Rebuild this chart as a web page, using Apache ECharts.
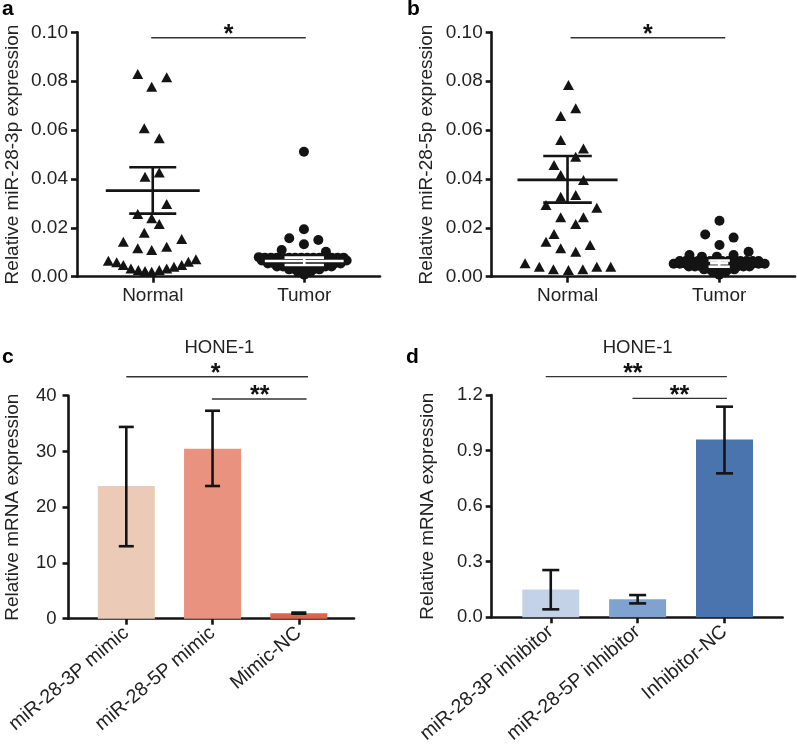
<!DOCTYPE html>
<html><head><meta charset="utf-8">
<script src="https://cdn.jsdelivr.net/npm/echarts@6/dist/echarts.min.js"></script>
<style>html,body{margin:0;padding:0;background:#fff}#c{width:797px;height:745px}</style>
</head><body><div id="c"></div>
<script>
// ---------------- DATA ----------------
const scatterCategories = ['Normal', 'Tumor'];
const scatterCatPos = [0.5, 1.5];
const yTitleA = 'Relative miR-28-3p expression';
const yTitleB = 'Relative miR-28-5p expression';

// panel a: [x jitter position, value]
const aNormal = [
  [0.401,0.0829],[0.493,0.0777],[0.592,0.0816],[0.444,0.0607],[0.543,0.0566],
  [0.449,0.0409],[0.543,0.0426],[0.592,0.0297],[0.401,0.0257],[0.493,0.0239],
  [0.543,0.0216],[0.444,0.0180],[0.306,0.0143],[0.691,0.0154],[0.401,0.0116],
  [0.493,0.0109],[0.592,0.0123],
  [0.207,0.0065],[0.262,0.0059],[0.306,0.0048],[0.356,0.0034],[0.405,0.0027],
  [0.449,0.0023],[0.493,0.0020],[0.543,0.0027],[0.592,0.0034],[0.640,0.0041],
  [0.691,0.0048],[0.735,0.0061],[0.785,0.0071]
];
const aTumor = [
  [1.498,0.0511],[1.498,0.0194],[1.401,0.0157],[1.593,0.0150],[1.498,0.0133],
  [1.351,0.0109],[1.643,0.0102],
  [1.20,0.0080],[1.24,0.0078],[1.28,0.0078],[1.32,0.0078],[1.36,0.0078],[1.40,0.0078],[1.44,0.0078],
  [1.48,0.0078],[1.52,0.0078],[1.56,0.0078],[1.60,0.0078],[1.64,0.0078],[1.68,0.0078],[1.72,0.0078],[1.76,0.0078],
  [1.22,0.0066],[1.26,0.0066],[1.30,0.0066],[1.34,0.0066],[1.38,0.0066],[1.42,0.0066],[1.46,0.0066],[1.50,0.0066],
  [1.54,0.0066],[1.58,0.0066],[1.62,0.0066],[1.66,0.0066],[1.70,0.0066],[1.74,0.0066],[1.78,0.0066],
  [1.26,0.0054],[1.30,0.0054],[1.34,0.0054],[1.38,0.0054],[1.42,0.0054],[1.46,0.0054],[1.50,0.0054],
  [1.54,0.0054],[1.58,0.0054],[1.62,0.0054],[1.66,0.0054],[1.70,0.0054],[1.74,0.0054],
  [1.32,0.0042],[1.36,0.0042],[1.40,0.0042],[1.44,0.0042],[1.48,0.0042],[1.52,0.0042],[1.56,0.0042],
  [1.60,0.0042],[1.64,0.0042],[1.68,0.0042],
  [1.40,0.0030],[1.44,0.0030],[1.48,0.0030],[1.52,0.0030],[1.56,0.0030],[1.60,0.0030],
  [1.46,0.0018],[1.50,0.0018],[1.54,0.0018],[1.50,0.0008]
];
// [category position, mean, mean-SEM, mean+SEM]
const aStatsNormal = [[0.5, 0.0352, 0.0258, 0.0448]];
const aStatsTumor  = [[1.5, 0.0064, 0.0048, 0.0078]];

// panel b
const bNormal = [
  [0.506,0.0784],[0.554,0.0689],[0.455,0.0658],[0.455,0.0559],[0.605,0.0525],
  [0.554,0.0491],[0.411,0.0457],[0.455,0.0416],[0.605,0.0396],[0.455,0.0327],
  [0.554,0.0334],[0.358,0.0293],[0.693,0.0282],[0.455,0.0243],[0.605,0.0243],
  [0.554,0.0216],[0.411,0.0175],[0.358,0.0143],[0.455,0.0116],[0.554,0.0102],
  [0.649,0.0130],
  [0.220,0.0055],[0.314,0.0041],[0.407,0.0030],[0.506,0.0027],[0.601,0.0030],
  [0.693,0.0041],[0.785,0.0041]
];
const bTumor = [
  [1.502,0.0229],[1.408,0.0173],[1.595,0.0160],[1.502,0.0130],[1.304,0.0089],
  [1.694,0.0102],[1.595,0.0089],[1.386,0.0082],[1.485,0.0082],
  [1.24,0.0064],[1.28,0.0064],[1.32,0.0064],[1.36,0.0064],[1.40,0.0064],[1.44,0.0064],[1.48,0.0064],
  [1.52,0.0064],[1.56,0.0064],[1.60,0.0064],[1.64,0.0064],[1.68,0.0064],[1.72,0.0064],[1.76,0.0064],
  [1.20,0.0053],[1.24,0.0053],[1.28,0.0053],[1.32,0.0053],[1.36,0.0053],[1.40,0.0053],[1.44,0.0053],[1.48,0.0053],
  [1.52,0.0053],[1.56,0.0053],[1.60,0.0053],[1.64,0.0053],[1.68,0.0053],[1.72,0.0053],[1.76,0.0053],[1.80,0.0053],
  [1.30,0.0042],[1.34,0.0042],[1.38,0.0042],[1.42,0.0042],[1.46,0.0042],[1.50,0.0042],
  [1.54,0.0042],[1.58,0.0042],[1.62,0.0042],[1.66,0.0042],[1.70,0.0042],
  [1.40,0.0030],[1.44,0.0030],[1.48,0.0030],[1.52,0.0030],[1.56,0.0030],[1.60,0.0030],
  [1.46,0.0018],[1.50,0.0018],[1.54,0.0018],[1.50,0.0008]
];
const bStatsNormal = [[0.5, 0.0396, 0.0303, 0.0494]];
const bStatsTumor  = [[1.5, 0.0055, 0.0041, 0.0066]];

// panel c
const cCategories = ['miR-28-3P mimic', 'miR-28-5P mimic', 'Mimic-NC'];
const cValues = [23.8, 30.5, 1.0];
const cErrLow = [13.0, 23.8, 0.9];
const cErrHigh = [34.4, 37.3, 1.1];

// panel d
const dCategories = ['miR-28-3P inhibitor', 'miR-28-5P inhibitor', 'Inhibitor-NC'];
const dValues = [0.15, 0.097, 0.96];
const dErrLow = [0.043, 0.075, 0.777];
const dErrHigh = [0.255, 0.12, 1.137];

const barTitle = 'HONE-1';
const barYTitle = 'Relative mRNA expression';

// significance brackets: [grid, x1, x2, y, label, labelX] (data units)
const sigMarks = [
  [0, 0.49, 1.51, 0.0978, '*', 1.0],
  [1, 0.52, 1.54, 0.0978, '*', 1.03],
  [2, 0.0, 2.107, 43.4, '*', 1.036],
  [2, 0.993, 2.09, 39.4, '**', 1.547],
  [3, -0.058, 2.028, 1.299, '**', 0.945],
  [3, 0.94, 2.028, 1.182, '**', 1.482]
];

// ---------------- STYLE ----------------
const FONT = "'Liberation Sans', Arial, Helvetica, sans-serif";
const INK = '#141414';
const TXT = '#222';
const cColors = ['#EBCBB7', '#E8927F', '#DF634C'];
const dColors = ['#C3D2E6', '#7FA2CE', '#4A74AE'];

const chart = echarts.init(document.getElementById('c'), null, {renderer: 'canvas'});

function yAxisCfg(grid, min, max, interval, digits, fs, name, gap, margin) {
  return {
    type: 'value', gridIndex: grid, min, max, interval,
    axisLine: {show: true, onZero: false, lineStyle: {color: INK, width: 2.6}},
    axisTick: {show: true, inside: false, length: 6, lineStyle: {color: INK, width: 2.6}},
    axisLabel: {color: TXT, fontSize: fs, fontFamily: FONT, margin, formatter: v => v.toFixed(digits)},
    splitLine: {show: false},
    name, nameLocation: 'middle', nameGap: gap,
    nameTextStyle: {fontSize: 19, color: TXT, fontFamily: FONT}
  };
}
function xAxisCfg(grid, min, max, positions, cats, fs, rotate, margin) {
  return {
    type: 'value', gridIndex: grid, min, max,
    axisLine: {show: true, onZero: false, lineStyle: {color: INK, width: 2.6}},
    axisTick: {show: true, length: 6, customValues: positions, lineStyle: {color: INK, width: 2.6}},
    axisLabel: {
      customValues: positions, color: TXT, fontSize: fs, fontFamily: FONT, rotate, margin,
      formatter: v => { const i = positions.findIndex(p => Math.abs(p - v) < 1e-6); return i >= 0 ? cats[i] : ''; }
    },
    splitLine: {show: false}
  };
}

function statsRender(color, meanHalf, capHalf) {
  return function (params, api) {
    const x = api.value(0), m = api.value(1), lo = api.value(2), hi = api.value(3);
    const st = {stroke: color, lineWidth: 2.6};
    const ln = (a, b) => ({type: 'line', shape: {x1: a[0], y1: a[1], x2: b[0], y2: b[1]}, style: st});
    return {type: 'group', children: [
      ln(api.coord([x - meanHalf, m]), api.coord([x + meanHalf, m])),
      ln(api.coord([x, lo]), api.coord([x, hi])),
      ln(api.coord([x - capHalf, lo]), api.coord([x + capHalf, lo])),
      ln(api.coord([x - capHalf, hi]), api.coord([x + capHalf, hi]))
    ]};
  };
}
function errRender(capPx) {
  return function (params, api) {
    const x = api.value(0), lo = api.value(1), hi = api.value(2);
    const a = api.coord([x, lo]), b = api.coord([x, hi]);
    const st = {stroke: INK, lineWidth: 2.6};
    return {type: 'group', children: [
      {type: 'line', shape: {x1: a[0], y1: a[1], x2: b[0], y2: b[1]}, style: st},
      {type: 'line', shape: {x1: a[0] - capPx, y1: a[1], x2: a[0] + capPx, y2: a[1]}, style: st},
      {type: 'line', shape: {x1: b[0] - capPx, y1: b[1], x2: b[0] + capPx, y2: b[1]}, style: st}
    ]};
  };
}

const barPos = [0, 1, 2];

const option = {
  animation: false,
  backgroundColor: '#fff',
  grid: [
    {left: 77, right: 417, top: 32.3, bottom: 468.3, outerBoundsMode: 'none'},
    {left: 491.7, right: 2, top: 32.3, bottom: 468.3, outerBoundsMode: 'none'},
    {left: 68.5, right: 443, top: 395.7, bottom: 126.3, outerBoundsMode: 'none'},
    {left: 491.7, right: 14.3, top: 395, bottom: 127.7, outerBoundsMode: 'none'}
  ],
  xAxis: [
    xAxisCfg(0, 0, 2, scatterCatPos, scatterCategories, 19, 0, 10),
    xAxisCfg(1, 0, 2, scatterCatPos, scatterCategories, 19, 0, 10),
    xAxisCfg(2, -0.67, 2.64, barPos, cCategories, 19.5, 40, 12),
    xAxisCfg(3, -0.68, 2.67, barPos, dCategories, 19.5, 40, 12)
  ],
  yAxis: [
    yAxisCfg(0, 0, 0.10, 0.02, 2, 19, yTitleA, 55, 9),
    yAxisCfg(1, 0, 0.10, 0.02, 2, 19, yTitleB, 55, 9),
    yAxisCfg(2, 0, 40, 10, 0, 18.5, barYTitle, 46, 12),
    yAxisCfg(3, 0, 1.2, 0.3, 1, 18.5, barYTitle, 54, 9)
  ],
  series: [
    {type: 'scatter', xAxisIndex: 0, yAxisIndex: 0, data: aNormal, symbol: 'triangle', symbolSize: [11, 10], itemStyle: {color: INK, opacity: 1}},
    {type: 'scatter', xAxisIndex: 0, yAxisIndex: 0, data: aTumor, symbol: 'circle', symbolSize: 10, itemStyle: {color: INK, opacity: 1}},
    {type: 'custom', xAxisIndex: 0, yAxisIndex: 0, data: aStatsNormal, renderItem: statsRender(INK, 0.31, 0.155), z: 5},
    {type: 'custom', xAxisIndex: 0, yAxisIndex: 0, data: aStatsTumor, renderItem: statsRender('#fff', 0.26, 0.13), z: 5},
    {type: 'scatter', xAxisIndex: 1, yAxisIndex: 1, data: bNormal, symbol: 'triangle', symbolSize: [11, 10], itemStyle: {color: INK, opacity: 1}},
    {type: 'scatter', xAxisIndex: 1, yAxisIndex: 1, data: bTumor, symbol: 'circle', symbolSize: 10, itemStyle: {color: INK, opacity: 1}},
    {type: 'custom', xAxisIndex: 1, yAxisIndex: 1, data: bStatsNormal, renderItem: statsRender(INK, 0.33, 0.16), z: 5},
    {type: 'custom', xAxisIndex: 1, yAxisIndex: 1, data: bStatsTumor, renderItem: statsRender('#fff', 0.06, 0.07), z: 5},
    {type: 'bar', xAxisIndex: 2, yAxisIndex: 2, barWidth: 57,
      data: cValues.map((v, i) => ({value: [barPos[i], v], itemStyle: {color: cColors[i]}}))},
    {type: 'custom', xAxisIndex: 2, yAxisIndex: 2, z: 5,
      data: cValues.map((v, i) => [barPos[i], cErrLow[i], cErrHigh[i]]), renderItem: errRender(7.5)},
    {type: 'bar', xAxisIndex: 3, yAxisIndex: 3, barWidth: 57,
      data: dValues.map((v, i) => ({value: [barPos[i], v], itemStyle: {color: dColors[i]}}))},
    {type: 'custom', xAxisIndex: 3, yAxisIndex: 3, z: 5,
      data: dValues.map((v, i) => [barPos[i], dErrLow[i], dErrHigh[i]]), renderItem: errRender(8.5)}
  ]
};
chart.setOption(option);

// annotations (panel letters, titles, significance brackets)
const g = [];
const letters = [['a', 2, 9], ['b', 407, 9], ['c', 2, 357], ['d', 406, 357]];
letters.forEach(([t, x, y]) => g.push({type: 'text', x, y, style: {text: t, fontSize: 21, fontWeight: 'bold', fontFamily: FONT, fill: '#000', textVerticalAlign: 'middle'}}));
[[2, 1.08], [3, 1.0]].forEach(([gi, xv]) => {
  const p = chart.convertToPixel({gridIndex: gi}, [xv, 0]);
  g.push({type: 'text', x: p[0], y: 348, style: {text: barTitle, fontSize: 18.5, fontFamily: FONT, fill: TXT, textAlign: 'center', textVerticalAlign: 'middle'}});
});
sigMarks.forEach(([gi, x1, x2, y, lab, lx]) => {
  const p1 = chart.convertToPixel({gridIndex: gi}, [x1, y]);
  const p2 = chart.convertToPixel({gridIndex: gi}, [x2, y]);
  const pl = chart.convertToPixel({gridIndex: gi}, [lx, y]);
  g.push({type: 'line', shape: {x1: p1[0], y1: p1[1], x2: p2[0], y2: p2[1]}, style: {stroke: '#333', lineWidth: 1.4}});
  g.push({type: 'text', x: pl[0], y: pl[1] - 2.5, style: {text: lab, fontSize: 25, fontWeight: 'bold', fontFamily: FONT, fill: '#111', textAlign: 'center', textVerticalAlign: 'middle'}});
});
chart.setOption({graphic: g});
</script>
</body></html>
